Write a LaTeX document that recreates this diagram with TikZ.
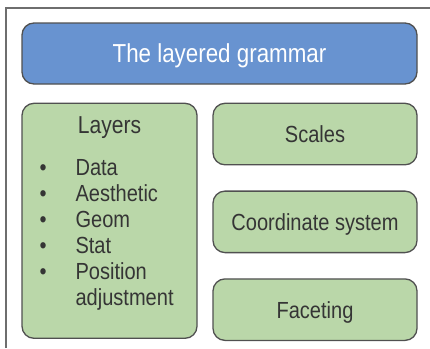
\documentclass[tikz,border=0pt]{standalone}
\usepackage{fontspec}
\setmainfont{Liberation Sans}[FakeStretch=0.86]
\usepackage{tikz}
\usetikzlibrary{positioning}
\definecolor{grBlue}{HTML}{6893D0}
\definecolor{grGreen}{HTML}{BAD7A9}
\definecolor{grEdge}{HTML}{505050}
\definecolor{grText}{HTML}{353535}
\definecolor{grFrame}{HTML}{6E6E6E}

\begin{document}
\begin{tikzpicture}[x=1pt, y=-1pt,
  box/.style={draw=grEdge, line width=1.3pt, rounded corners=12pt, inner sep=0pt},
  headbox/.style={box, fill=grBlue, text=white, font=\fontsize{26}{30}\selectfont,
    minimum width=395pt, minimum height=61pt, text height=18.6pt, text depth=0pt},
  partbox/.style={box, fill=grGreen, text=grText, font=\fontsize{23.3}{26}\selectfont,
    minimum width=204pt, minimum height=61.5pt, text height=16.7pt, text depth=0pt},
  lab/.style={inner sep=0pt, text=grText, font=\fontsize{23.3}{26}\selectfont}
]
\useasboundingbox[fill=white] (0,0) rectangle (430,348);
\draw[grFrame, line width=1.5pt] (6,348) -- (6,8) -- (430,8);

\node[headbox] (title) at (219.5,53.5) {The layered grammar};

\node[box, fill=grGreen, minimum width=175pt, minimum height=235pt,
  below=18pt of title.south west, anchor=north west] (layers) {};
\node[lab, font=\fontsize{24.5}{28}\selectfont, below=13.5pt of layers.north] (layershead) {Layers};
\node[lab, below right=54pt and 18pt of layers.north west, anchor=north west] (layerlist) {%
  \begin{tabular}{@{}l@{\hspace{29pt}}l@{}}
    \textbullet & Data\\
    \textbullet & Aesthetic\\
    \textbullet & Geom\\
    \textbullet & Stat\\
    \textbullet & Position\\
                & adjustment
  \end{tabular}};

\node[partbox, below=18pt of title.south east, anchor=north east] (scales) {Scales};
\node[partbox, below=25pt of scales] (coord) {Coordinate system};
\node[partbox, below=25pt of coord] (facet) {Faceting};
\end{tikzpicture}
\end{document}
